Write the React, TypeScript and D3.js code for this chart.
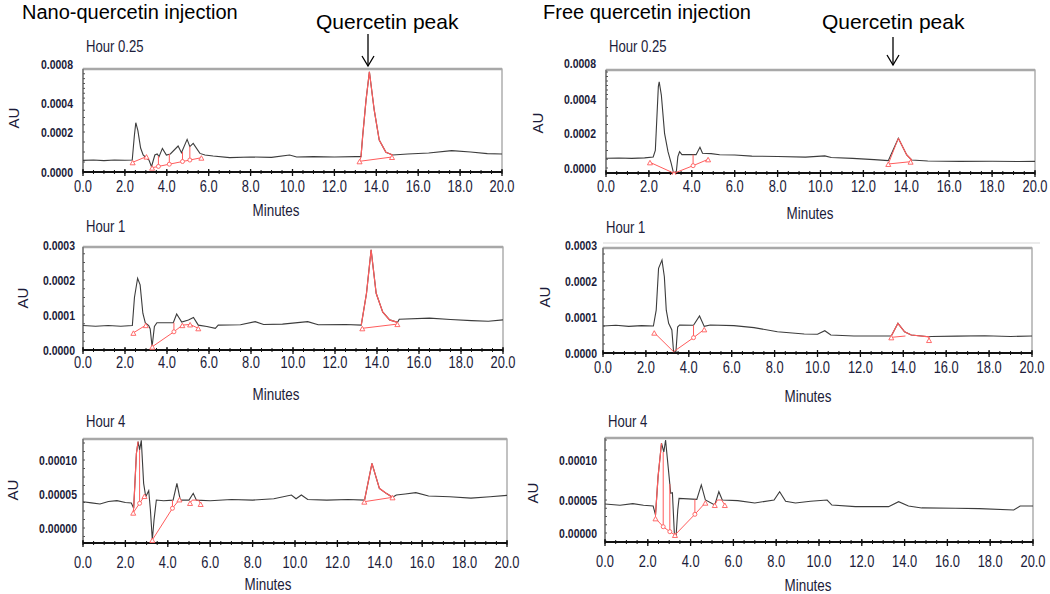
import React from 'react';
import * as d3 from 'd3';

type P = [number, number];

// ---------- tick values ----------
const xTickValues = [0, 2, 4, 6, 8, 10, 12, 14, 16, 18, 20];
const yTicksH025 = [0, 0.0002, 0.0004, 0.0008];
const yTicksH1 = [0, 0.0001, 0.0002, 0.0003];
const yTicksH4 = [0, 0.00005, 0.0001];

// ---------- Nano-quercetin, hour 0.25 ----------
const nanoH025Trace: P[] = [[0,0.000058],[0.5,0.00006],[1.0,0.000057],[1.5,0.00006],[2.0,0.000059],[2.35,0.00006],[2.45,0.00018],[2.52,0.000264],[2.62,0.00021],[2.75,0.00012],[2.87,0.000085],[3.03,0.00007],[3.15,0.00006],[3.27,0.0000265],[3.36,0.00006],[3.43,0.000085],[3.54,0.00009],[3.63,0.000077],[3.79,0.000118],[3.98,0.000085],[4.17,0.00009],[4.54,0.00013],[4.70,0.0000965],[4.97,0.000163],[5.10,0.000127],[5.26,0.000143],[5.58,0.000093],[5.82,0.000085],[6.21,0.00008],[7.0,0.000072],[8.0,0.000075],[9.0,0.000073],[9.86,0.000085],[10.2,0.000075],[11.0,0.000077],[12.0,0.000075],[13.0,0.000077],[13.27,0.000077],[13.35,0.00018],[13.51,0.00043],[13.67,0.000721],[13.9,0.000352],[14.14,0.00016],[14.46,0.0000985],[14.78,0.000085],[15.5,0.00009],[16.5,0.000095],[17.6,0.000107],[18.5,0.0001],[19.3,0.000092],[20,0.00009]];
const nanoH025RedRanges: P[] = [[13.27, 14.78]];
const nanoH025RedLines: P[][] = [
  [[2.37,0.0000485],[3.03,0.000077]],
  [[3.3,0.0000215],[5.65,0.0000715]],
  [[3.6,0.00008],[3.6,0.0000279]],
  [[4.12,0.00009],[4.12,0.000039]],
  [[4.75,0.0001],[4.75,0.0000524]],
  [[5.1,0.000127],[5.1,0.0000598]],
  [[13.2,0.0000535],[13.27,0.000077]],
  [[13.2,0.0000535],[14.75,0.000075]],
];
const nanoH025Triangles: P[] = [[2.37,0.0000485],[3.03,0.000077],[3.3,0.0000215],[5.65,0.0000715],[13.2,0.0000535],[14.75,0.000075]];
const nanoH025Diamonds: P[] = [[3.6,0.0000279],[4.12,0.000039],[4.75,0.0000524],[5.1,0.0000598]];

// ---------- Nano-quercetin, hour 1 ----------
const nanoH1Trace: P[] = [[0,0.00007],[0.6,0.000068],[1.2,0.00007],[1.8,0.000068],[2.35,0.00007],[2.45,0.00015],[2.6,0.000205],[2.72,0.000186],[2.85,0.000105],[2.97,0.000077],[3.13,0.00007],[3.2,0.00006],[3.29,0.0000094],[3.4,0.000067],[3.52,0.000078],[4.3,0.000078],[4.46,0.000103],[4.7,0.00008],[5.02,0.000086],[5.26,0.000093],[5.49,0.000071],[5.9,0.000067],[6.3,0.000062],[6.44,0.000071],[7.5,0.000072],[8.2,0.000081],[8.6,0.000073],[9.5,0.000074],[10.7,0.000081],[11.2,0.000072],[12.5,0.000073],[13.25,0.000071],[13.5,0.000162],[13.72,0.000286],[13.96,0.000162],[14.27,0.000109],[14.6,0.000086],[14.98,0.000079],[15.06,0.000088],[16.5,0.000091],[17.5,0.000087],[18.5,0.000084],[19.3,0.000082],[20,0.000086]];
const nanoH1RedRanges: P[] = [[13.25, 14.98]];
const nanoH1RedLines: P[][] = [
  [[2.4,0.000049],[2.99,0.000071]],
  [[3.3,0.0000094],[4.33,0.000052],[4.73,0.000071]],
  [[4.33,0.000078],[4.33,0.000052]],
  [[4.73,0.000071],[5.1,0.000073],[5.49,0.000062]],
  [[13.3,0.000062],[14.97,0.000074]],
];
const nanoH1Triangles: P[] = [[2.4,0.000049],[2.99,0.000071],[3.3,0.0000094],[4.73,0.000071],[5.1,0.000073],[5.49,0.000062],[13.3,0.000062],[14.97,0.000074]];
const nanoH1Diamonds: P[] = [[4.33,0.000052]];

// ---------- Nano-quercetin, hour 4 ----------
const nanoH4Trace: P[] = [[0,0.0000387],[0.4,0.000037],[0.8,0.0000353],[1.2,0.000039],[1.6,0.0000402],[2.0,0.0000375],[2.28,0.0000368],[2.39,0.000029],[2.52,0.00011],[2.6,0.000127],[2.67,0.000115],[2.75,0.000129],[2.86,0.0000657],[2.96,0.000046],[3.1,0.0000549],[3.18,0.0000265],[3.27,-0.0000176],[3.35,0.0000118],[3.46,0.0000412],[3.8,0.00004],[4.25,0.000041],[4.43,0.0000657],[4.59,0.000041],[5.0,0.000041],[5.2,0.000051],[5.35,0.000041],[6.0,0.00004],[7.0,0.000042],[8.0,0.000041],[9.0,0.000043],[9.83,0.0000485],[10.05,0.000043],[10.3,0.0000485],[10.6,0.000042],[11.5,0.000041],[12.5,0.000042],[13.28,0.000041],[13.63,0.000095],[13.98,0.0000583],[14.3,0.000051],[14.6,0.0000451],[14.78,0.0000485],[15.2,0.00005],[15.7,0.000052],[16.3,0.000047],[17.3,0.000046],[18.3,0.000044],[19.2,0.000046],[20,0.000048]];
const nanoH4RedRanges: P[] = [[2.39, 2.6], [13.28, 14.6]];
const nanoH4RedLines: P[][] = [
  [[2.37,0.0000225],[2.39,0.000029]],
  [[2.37,0.0000225],[2.67,0.0000363],[2.9,0.000047]],
  [[2.67,0.000115],[2.67,0.0000363]],
  [[3.27,-0.0000176],[4.22,0.000029],[4.55,0.000042]],
  [[4.22,0.000041],[4.22,0.000029]],
  [[5.05,0.0000368],[5.15,0.000041],[5.45,0.000041],[5.55,0.0000353]],
  [[13.27,0.0000387],[14.6,0.0000451]],
];
const nanoH4Triangles: P[] = [[2.37,0.0000225],[2.9,0.000047],[3.27,-0.0000176],[4.55,0.000042],[5.05,0.0000368],[5.55,0.0000353],[13.27,0.0000387],[14.6,0.0000451]];
const nanoH4Diamonds: P[] = [[2.67,0.0000363],[4.22,0.000029]];

// ---------- Free quercetin, hour 0.25 ----------
const freeH025Trace: P[] = [[0,0.0000553],[0.6,0.000057],[1.2,0.000055],[1.8,0.000058],[2.2,0.000063],[2.3,0.0001],[2.44,0.000537],[2.48,0.000592],[2.58,0.000444],[2.73,0.000198],[2.89,0.0000933],[3.04,0.0000267],[3.15,-0.00003],[3.28,-0.00002],[3.35,0.0000648],[3.43,0.000093],[3.54,0.0000762],[4.2,0.0000762],[4.38,0.000118],[4.5,0.0000838],[4.9,0.000082],[5.3,0.000076],[6.0,0.000074],[6.8,0.000068],[8.0,0.000066],[9.3,0.000062],[10.2,0.000069],[10.5,0.00006],[11.5,0.000055],[12.5,0.000048],[13.16,0.0000419],[13.63,0.00017],[14.02,0.0000743],[14.25,0.0000457],[15.0,0.00004],[16.5,0.000038],[18.0,0.000039],[19.2,0.000037],[20,0.000038]];
const freeH025RedRanges: P[] = [[13.63, 14.25]];
const freeH025RedLines: P[][] = [
  [[2.05,0.0000324],[3.17,-0.00003],[4.06,0.0000133],[4.76,0.0000495]],
  [[4.06,0.0000762],[4.06,0.0000133]],
  [[13.16,0.000023],[13.63,0.00017]],
  [[14.25,0.0000457],[14.2,0.000036]],
  [[13.16,0.000023],[14.2,0.000036]],
];
const freeH025Triangles: P[] = [[2.05,0.0000324],[3.17,-0.00003],[4.76,0.0000495],[13.16,0.000023],[14.2,0.000036]];
const freeH025Diamonds: P[] = [[4.06,0.0000133]];

// ---------- Free quercetin, hour 1 ----------
const freeH1Trace: P[] = [[0,0.000075],[0.6,0.000077],[1.2,0.000074],[1.8,0.000076],[2.35,0.000075],[2.48,0.000119],[2.59,0.000235],[2.75,0.000258],[2.86,0.000212],[2.95,0.000119],[3.06,0.0000825],[3.21,0.000064],[3.29,0.0000036],[3.4,0.0000036],[3.48,0.000072],[3.57,0.0000778],[4.22,0.000077],[4.5,0.000103],[4.72,0.000074],[5.0,0.0000778],[6.1,0.000076],[7.04,0.0000704],[8.13,0.000059],[9.38,0.0000528],[10.0,0.000052],[10.34,0.000062],[10.62,0.00005],[11.7,0.0000472],[13.44,0.0000472],[13.75,0.0000825],[14.06,0.000059],[14.37,0.00005],[15.2,0.000045],[15.3,0.000046],[16.5,0.000047],[17.8,0.000048],[19,0.000046],[20,0.0000472]];
const freeH1RedRanges: P[] = [[13.44, 15.2]];
const freeH1RedLines: P[][] = [
  [[2.39,0.0000564],[3.29,0.0000036],[4.22,0.0000426],[4.72,0.0000657]],
  [[4.22,0.000077],[4.22,0.0000426]],
  [[13.44,0.0000435],[14.1,0.0000472]],
  [[15.2,0.000045],[15.2,0.000036]],
];
const freeH1Triangles: P[] = [[2.39,0.0000564],[4.72,0.0000657],[13.44,0.0000435],[15.2,0.000036]];
const freeH1Diamonds: P[] = [[4.22,0.0000426]];

// ---------- Free quercetin, hour 4 ----------
const freeH4Trace: P[] = [[0,0.0000439],[0.7,0.000042],[1.3,0.0000445],[1.8,0.000042],[2.25,0.0000409],[2.36,0.0000273],[2.48,0.0000792],[2.64,0.000121],[2.75,0.00011],[2.83,0.000125],[2.95,0.0000917],[3.07,0.0000583],[3.15,0.000059],[3.24,0],[3.32,-0.0000056],[3.4,0.0000348],[3.46,0.000052],[4.29,0.0000508],[4.5,0.0000688],[4.69,0.00005],[5.13,0.0000424],[5.32,0.0000604],[5.48,0.00005],[6.2,0.000049],[7.0,0.0000455],[7.9,0.00005],[8.16,0.0000604],[8.44,0.000048],[8.9,0.0000455],[9.6,0.000048],[10.38,0.00005],[10.6,0.0000424],[11.7,0.0000399],[13.25,0.0000399],[13.72,0.0000474],[14.18,0.0000409],[14.8,0.000038],[16.36,0.0000374],[17.5,0.000037],[19.1,0.0000348],[19.4,0.0000409],[20,0.0000409]];
const freeH4RedRanges: P[] = [[2.36, 2.64]];
const freeH4RedLines: P[][] = [
  [[2.36,0.0000222],[2.36,0.0000273]],
  [[2.36,0.0000222],[2.72,0.0000095],[3.03,0.000002],[3.27,-0.000003],[4.2,0.0000283],[4.69,0.0000459]],
  [[2.72,0.00011],[2.72,0.0000095]],
  [[3.03,0.00007],[3.03,0.000002]],
  [[4.2,0.0000508],[4.2,0.0000283]],
  [[5.13,0.0000424],[5.25,0.00005],[5.45,0.00005],[5.6,0.0000424]],
];
const freeH4Triangles: P[] = [[2.36,0.0000222],[3.27,-0.000003],[4.69,0.0000459],[5.13,0.0000424],[5.6,0.0000424]];
const freeH4Diamonds: P[] = [[2.72,0.0000095],[3.03,0.000002],[4.2,0.0000283]];

// ---------- layout ----------
interface Layout {
  left: number; right: number; top: number; bottom: number;
  yDomain: number[]; yRange: number[];
  hourY: number; tickY: number; minutesY: number; minutesX: number;
  auX: number; auY: number; labelGap: number; yFmt: string;
}

const panels = [
  { id: 'a1', hour: 'Hour 0.25', trace: nanoH025Trace, redRanges: nanoH025RedRanges, redLines: nanoH025RedLines, tri: nanoH025Triangles, dia: nanoH025Diamonds, yTicks: yTicksH025,
    L: { left: 83, right: 502, top: 69, bottom: 172, yDomain: [0, 0.0002, 0.0004, 0.0008], yRange: [172, 132, 103, 64], hourY: 52, tickY: 192, minutesY: 216, minutesX: 276, auX: 19, auY: 118, labelGap: 10, yFmt: '.4f' } as Layout },
  { id: 'a2', hour: 'Hour 1', trace: nanoH1Trace, redRanges: nanoH1RedRanges, redLines: nanoH1RedLines, tri: nanoH1Triangles, dia: nanoH1Diamonds, yTicks: yTicksH1,
    L: { left: 83, right: 503, top: 247, bottom: 350, yDomain: [0, 0.0003], yRange: [350, 245], hourY: 232, tickY: 368, minutesY: 400, minutesX: 276, auX: 28, auY: 298, labelGap: 8, yFmt: '.4f' } as Layout },
  { id: 'a3', hour: 'Hour 4', trace: nanoH4Trace, redRanges: nanoH4RedRanges, redLines: nanoH4RedLines, tri: nanoH4Triangles, dia: nanoH4Diamonds, yTicks: yTicksH4,
    L: { left: 83, right: 507, top: 439, bottom: 543, yDomain: [0, 0.0001], yRange: [528, 460], hourY: 427, tickY: 568, minutesY: 590, minutesX: 268, auX: 18, auY: 490, labelGap: 6, yFmt: '.5f' } as Layout },
  { id: 'b1', hour: 'Hour 0.25', trace: freeH025Trace, redRanges: freeH025RedRanges, redLines: freeH025RedLines, tri: freeH025Triangles, dia: freeH025Diamonds, yTicks: yTicksH025,
    L: { left: 606, right: 1035, top: 70, bottom: 173, yDomain: [0, 0.0002, 0.0004, 0.0008], yRange: [168, 133, 99, 63], hourY: 52, tickY: 192, minutesY: 219, minutesX: 810, auX: 543, auY: 123, labelGap: 10, yFmt: '.4f' } as Layout },
  { id: 'b2', hour: 'Hour 1', trace: freeH1Trace, redRanges: freeH1RedRanges, redLines: freeH1RedLines, tri: freeH1Triangles, dia: freeH1Diamonds, yTicks: yTicksH1,
    L: { left: 603, right: 1032, top: 248, bottom: 353, yDomain: [0, 0.0003], yRange: [353, 245], hourY: 233, tickY: 373, minutesY: 402, minutesX: 808, auX: 550, auY: 297, labelGap: 6, yFmt: '.4f' } as Layout },
  { id: 'b3', hour: 'Hour 4', trace: freeH4Trace, redRanges: freeH4RedRanges, redLines: freeH4RedLines, tri: freeH4Triangles, dia: freeH4Diamonds, yTicks: yTicksH4,
    L: { left: 605, right: 1033, top: 438, bottom: 542, yDomain: [0, 0.00005, 0.0001], yRange: [533, 500, 460], hourY: 427, tickY: 567, minutesY: 591, minutesX: 808, auX: 538, auY: 493, labelGap: 8, yFmt: '.5f' } as Layout },
];

const TEXT = '#1c1c3a';
const RED = '#ff5c5c';
const TRACE = '#3c3c3c';
const SANS = '"Liberation Sans", Arial, sans-serif';

// condensed text: regular sans squeezed horizontally
function NText({ x, y, size, anchor = 'start', weight = 'normal', sx = 0.82, children }: { x: number; y: number; size: number; anchor?: string; weight?: string; sx?: number; children: React.ReactNode }) {
  return (
    <text transform={`translate(${x},${y}) scale(${sx},1)`} textAnchor={anchor as any} fontFamily={SANS} fontSize={size} fontWeight={weight} fill={TEXT}>{children}</text>
  );
}

function Panel({ p }: { p: typeof panels[number] }) {
  const L = p.L;
  const x = d3.scaleLinear().domain([0, 20]).range([L.left, L.right]);
  const y = d3.scaleLinear().domain(L.yDomain).range(L.yRange);
  const line = d3.line<P>().x(d => x(d[0])).y(d => y(d[1]));
  const fx = d3.format('.1f');
  const fy = d3.format(L.yFmt);
  const minorX = d3.range(0, 20.001, 0.5);
  const yMin = y.invert(L.bottom);
  const yMax = y.invert(L.top);
  const yStep = (p.yTicks[1] - p.yTicks[0]) / 4;
  const minorY = d3.range(Math.ceil(yMin / yStep) * yStep, yMax, yStep);
  const clipId = 'clip-' + p.id;
  return (
    <g>
      <defs>
        <clipPath id={clipId}>
          <rect x={L.left} y={L.top - 2} width={L.right - L.left} height={L.bottom - L.top + 4} />
        </clipPath>
      </defs>
      <rect x={L.left} y={L.top} width={L.right - L.left} height={L.bottom - L.top} fill="#fff" stroke="#9a9a9a" strokeWidth={1.2} />
      <line x1={L.left} x2={L.right} y1={L.top} y2={L.top} stroke="#a8a8a8" strokeWidth={2.5} />
      <line x1={L.left} x2={L.left} y1={L.top} y2={L.bottom} stroke="#555" strokeWidth={1} />
      {minorY.map((v, i) => (
        <line key={'my' + i} x1={L.left} x2={L.left + 2} y1={y(v)} y2={y(v)} stroke="#555" strokeWidth={1} />
      ))}
      <line x1={L.left} x2={L.right} y1={L.bottom} y2={L.bottom} stroke="#111" strokeWidth={2} />
      {minorX.map((v, i) => (
        <line key={'mx' + i} x1={x(v)} x2={x(v)} y1={L.bottom - 2} y2={L.bottom + 2} stroke="#111" strokeWidth={1} />
      ))}
      {xTickValues.map(v => (
        <g key={'xt' + v}>
          <line x1={x(v)} x2={x(v)} y1={L.bottom - 3} y2={L.bottom + 4} stroke="#111" strokeWidth={1.3} />
          <NText x={x(v)} y={L.tickY} size={16.5} anchor="middle" sx={0.78}>{fx(v)}</NText>
        </g>
      ))}
      {p.yTicks.map(v => (
        <NText key={'yt' + v} x={L.left - L.labelGap} y={y(v) + 4.5} size={12.5} anchor="end" weight="bold" sx={0.84}>{fy(v)}</NText>
      ))}
      <g clipPath={`url(#${clipId})`}>
        <path d={line(p.trace) || ''} fill="none" stroke={TRACE} strokeWidth={1.1} />
        {p.redRanges.map((r, i) => (
          <path key={'rr' + i} d={line(p.trace.filter(d => d[0] >= r[0] && d[0] <= r[1])) || ''} fill="none" stroke={RED} strokeWidth={1.2} />
        ))}
        {p.redLines.map((seg, i) => (
          <path key={'rl' + i} d={line(seg) || ''} fill="none" stroke={RED} strokeWidth={1} />
        ))}
        {p.tri.map((d, i) => (
          <path key={'tr' + i} d={`M${x(d[0]) - 2.5},${y(d[1]) + 2.5}L${x(d[0])},${y(d[1]) - 2}L${x(d[0]) + 2.5},${y(d[1]) + 2.5}Z`} fill="#fff" stroke={RED} strokeWidth={0.9} />
        ))}
        {p.dia.map((d, i) => (
          <circle key={'di' + i} cx={x(d[0])} cy={y(d[1])} r={2} fill="#fff" stroke={RED} strokeWidth={0.9} />
        ))}
      </g>
      <NText x={L.left + 3} y={L.hourY} size={16}>{p.hour}</NText>
      <NText x={L.minutesX} y={L.minutesY} size={16} anchor="middle" sx={0.84}>Minutes</NText>
      <text transform={`translate(${L.auX},${L.auY}) rotate(-90)`} textAnchor="middle" fontFamily={SANS} fontSize={15} fill={TEXT}>AU</text>
    </g>
  );
}

function Arrow({ cx, y1, y2 }: { cx: number; y1: number; y2: number }) {
  return (
    <g stroke="#000" strokeWidth={1.3} fill="none">
      <line x1={cx} x2={cx} y1={y1} y2={y2} />
      <path d={`M${cx - 6},${y2 - 10}L${cx},${y2}L${cx + 6},${y2 - 10}`} />
    </g>
  );
}

export default function App() {
  return (
    <svg width={1050} height={594} viewBox="0 0 1050 594" style={{ position: 'absolute', left: 0, top: 0, background: '#fff' }}>
      <rect x={0} y={0} width={1050} height={594} fill="#fff" />
      <line x1={603} x2={1040} y1={243} y2={243} stroke="#e4e4e4" strokeWidth={1.5} />
      {panels.map(p => <Panel key={p.id} p={p} />)}
      <text x={22} y={19} fontFamily={SANS} fontSize={20} fill="#000">Nano-quercetin injection</text>
      <text x={543} y={19} fontFamily={SANS} fontSize={20} fill="#000">Free quercetin injection</text>
      <text x={316} y={29} fontFamily={SANS} fontSize={21} fill="#000">Quercetin peak</text>
      <text x={822} y={29} fontFamily={SANS} fontSize={21} fill="#000">Quercetin peak</text>
      <Arrow cx={368} y1={34} y2={66} />
      <Arrow cx={893} y1={37} y2={65} />
    </svg>
  );
}
